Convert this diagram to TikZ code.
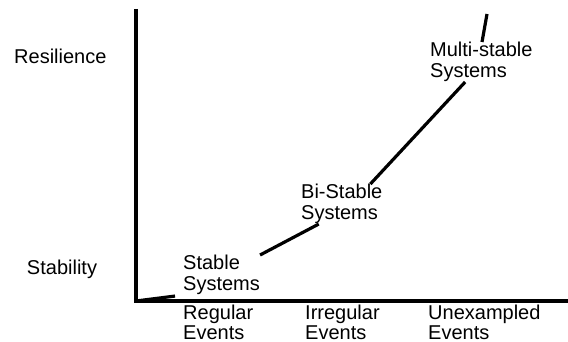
\documentclass[tikz,border=0pt]{standalone}
\usepackage{fontspec}
\setmainfont{Liberation Sans}
\usetikzlibrary{positioning}

\begin{document}
\begin{tikzpicture}[
		x=1pt, y=-1pt,
		axis/.style={line width=3.2pt, line join=miter},
		curve/.style={line width=3.2pt},
		lbl/.style={inner sep=0pt, align=left, anchor=north west, font=\fontsize{20}{21}\selectfont},
		side/.style={inner sep=0pt, font=\fontsize{20}{21}\selectfont}
		]
		\useasboundingbox (0,0) rectangle (568,342);
		
		% Axes
		\coordinate (origin) at (136,301);
		\coordinate (ytop) at (136,9);
		\coordinate (xend) at (568,301);
		\draw[axis] (ytop) -- (origin) -- (xend);
		
		% Y labels
		\node[side, anchor=west] (resil) at (14,56) {Resilience};
		\node[side] (stab) at (62,269) {Stability};
		
		% X labels
		\node[lbl, font=\fontsize{20}{20}\selectfont] (regular) at (183,305) {Regular\\Events};
		\node[lbl, font=\fontsize{20}{20}\selectfont] (irregular) at (305,305) {Irregular\\Events};
		\node[lbl, font=\fontsize{20}{20}\selectfont] (unexampled) at (428,305) {Unexampled\\Events};
		
		% Systems along the curve
		\node[lbl] (stable) at (183,255) {Stable\\Systems};
		\node[lbl] (bistable) at (301,184) {Bi-Stable\\Systems};
		\node[lbl] (multi) at (430,42) {Multi-stable\\Systems};
		\coordinate (ctop) at (487,14);
		
		% Curve pieces
		\draw[curve, shorten >=8pt] (origin) -- (stable.south west);
		\draw[curve] (stable.north east) -- (bistable.221);
		\draw[curve] (bistable.35) -- (multi.231);
		\draw[curve] (multi.88) -- (ctop);
		
	\end{tikzpicture}
\end{document}
